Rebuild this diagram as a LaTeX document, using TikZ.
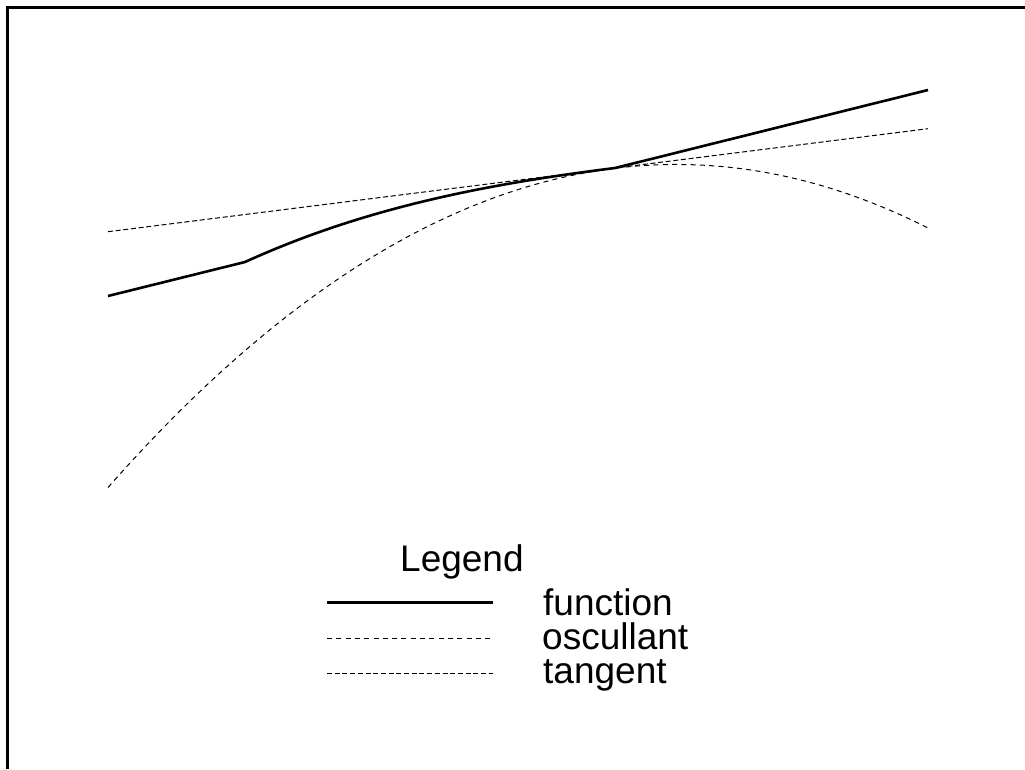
\documentclass[tikz,border=0pt]{standalone}
\usepackage{fontspec}
\setmainfont{Liberation Sans}
\begin{document}
\begin{tikzpicture}[x=1pt,y=-1pt,
  lbl/.style={anchor=base west,inner sep=0pt,font=\fontsize{37}{44}\selectfont},
  funcline/.style={line width=2.6pt,line join=round},
  osc/.style={line width=1pt,dash pattern=on 5pt off 4.3pt},
  tan/.style={line width=1pt,dash pattern=on 5pt off 2.7pt}]
\useasboundingbox (0,0) rectangle (1025,769);
% frame
\draw[line width=3pt] (1025,7.5) -- (7.5,7.5) -- (7.5,769);
% tangent
\draw[tan] (108,231.7) -- (928,128.7);
% osculating parabola
\draw[osc] (108,487.5) .. controls (381.3,177.2) and (654.7,89.9) .. (928,228);
% function
\draw[funcline] (108,296) -- (245,262) .. controls (368,206) and (492,183.5) .. (615,168) -- (928,90);
% legend
\node[lbl] (legend) at (400,571) {Legend};
\node[lbl] (tfun) at (543,615) {function};
\node[lbl] (tosc) at (542,649.5) {oscullant};
\node[lbl] (ttan) at (543,683.5) {tangent};
\coordinate (fa) at (327,602.5); \coordinate (fb) at (493,602.5);
\coordinate (oa) at (327,638); \coordinate (ob) at (491,638);
\coordinate (ta) at (327,673); \coordinate (tb) at (493,673);
\draw[funcline] (fa) -- (fb);
\draw[osc] (oa) -- (ob);
\draw[tan] (ta) -- (tb);
\end{tikzpicture}
\end{document}
